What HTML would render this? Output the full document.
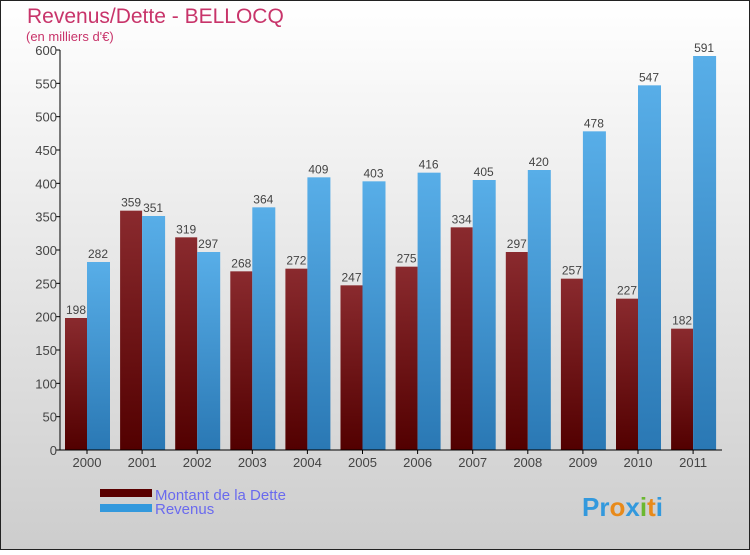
<!DOCTYPE html>
<html><head><meta charset="utf-8"><style>
body{margin:0;}
#c{width:750px;height:550px;position:relative;}
svg text{font-family:"Liberation Sans",sans-serif;}
</style></head><body>
<div id="c">
<svg id="s" width="750" height="550" xmlns="http://www.w3.org/2000/svg">
<defs>
<linearGradient id="bg" x1="0" y1="0" x2="0" y2="1"><stop offset="0" stop-color="#ffffff"/><stop offset="1" stop-color="#cdcdcd"/></linearGradient>
<linearGradient id="gd" x1="0" y1="0" x2="0" y2="1"><stop offset="0" stop-color="#8a2a2e"/><stop offset="1" stop-color="#520000"/></linearGradient>
<linearGradient id="gr" x1="0" y1="0" x2="0" y2="1"><stop offset="0" stop-color="#58aee8"/><stop offset="1" stop-color="#2a78b4"/></linearGradient>
</defs>
<rect x="0.5" y="0.5" width="749" height="549" fill="url(#bg)" stroke="#222"/>
<text x="27" y="23" font-size="21" fill="#c8346a">Revenus/Dette - BELLOCQ</text>
<text x="26" y="41" font-size="13" fill="#c8346a">(en milliers d'€)</text>
<g id="plot"></g>
<rect x="100" y="489" width="52" height="8" fill="#5a0000"/>
<text x="155" y="500" font-size="15" fill="#6a6aee">Montant de la Dette</text>
<rect x="100" y="504" width="52" height="8" fill="#3399dd"/>
<text x="155" y="514" font-size="15" fill="#6a6aee">Revenus</text>
<text x="582" y="516" font-size="26" font-weight="bold"><tspan fill="#3399dd">Pr</tspan><tspan fill="#e88a1a">o</tspan><tspan fill="#3399dd">x</tspan><tspan fill="#6bb830">i</tspan><tspan fill="#e88a1a">t</tspan><tspan fill="#3399dd">i</tspan></text>
</svg></div>
<script>
const years=["2000","2001","2002","2003","2004","2005","2006","2007","2008","2009","2010","2011"];
const dette=[198,359,319,268,272,247,275,334,297,257,227,182];
const revenus=[282,351,297,364,409,403,416,405,420,478,547,591];
const yTicks=[0,50,100,150,200,250,300,350,400,450,500,550,600];
const NS="http://www.w3.org/2000/svg";
const g=document.getElementById('plot');
const y0=450,yTop=50,vMax=600,x0=60,step=55.1,first=87,bw=22;
const Y=v=>y0-(v/vMax)*(y0-yTop);
const X=i=>first+i*step;
function mk(t,a){const e=document.createElementNS(NS,t);for(const k in a)e.setAttribute(k,a[k]);g.appendChild(e);return e;}
yTicks.forEach(v=>{
 const l=mk('line',{x1:x0-4,x2:x0,y1:Y(v),y2:Y(v),stroke:'#000'});
 
 
 const t=mk('text',{x:x0-3,y:Y(v)+5,'font-size':13,fill:'#444','text-anchor':'end'});
 t.textContent=v;
 
 
});
years.forEach((yr,i)=>{
 const cx=X(i);
 const a=mk('rect',{x:cx-bw,y:Y(dette[i]),width:bw,height:y0-Y(dette[i]),fill:'url(#gd)'});
 
 
 const b=mk('rect',{x:cx,y:Y(revenus[i]),width:bw+1,height:y0-Y(revenus[i]),fill:'url(#gr)'});
 
 
 const t1=mk('text',{x:cx-bw/2,y:Y(dette[i])-4,'font-size':12,fill:'#444','text-anchor':'middle'});
 t1.textContent=dette[i];
 
 
 const t2=mk('text',{x:cx+bw/2,y:Y(revenus[i])-4,'font-size':12,fill:'#444','text-anchor':'middle'});
 t2.textContent=revenus[i];
 
 
 const tk=mk('line',{x1:cx,x2:cx,y1:y0,y2:y0+4,stroke:'#000'});
 
 
 const xl=mk('text',{x:cx,y:y0+17,'font-size':13,fill:'#444','text-anchor':'middle'});
 xl.textContent=yr;
 
 
});
const ya=mk('line',{x1:x0,x2:x0,y1:yTop,y2:y0,stroke:'#000'});


const xa=mk('line',{x1:x0,x2:722,y1:y0,y2:y0,stroke:'#000'});


</script>
</body></html>
